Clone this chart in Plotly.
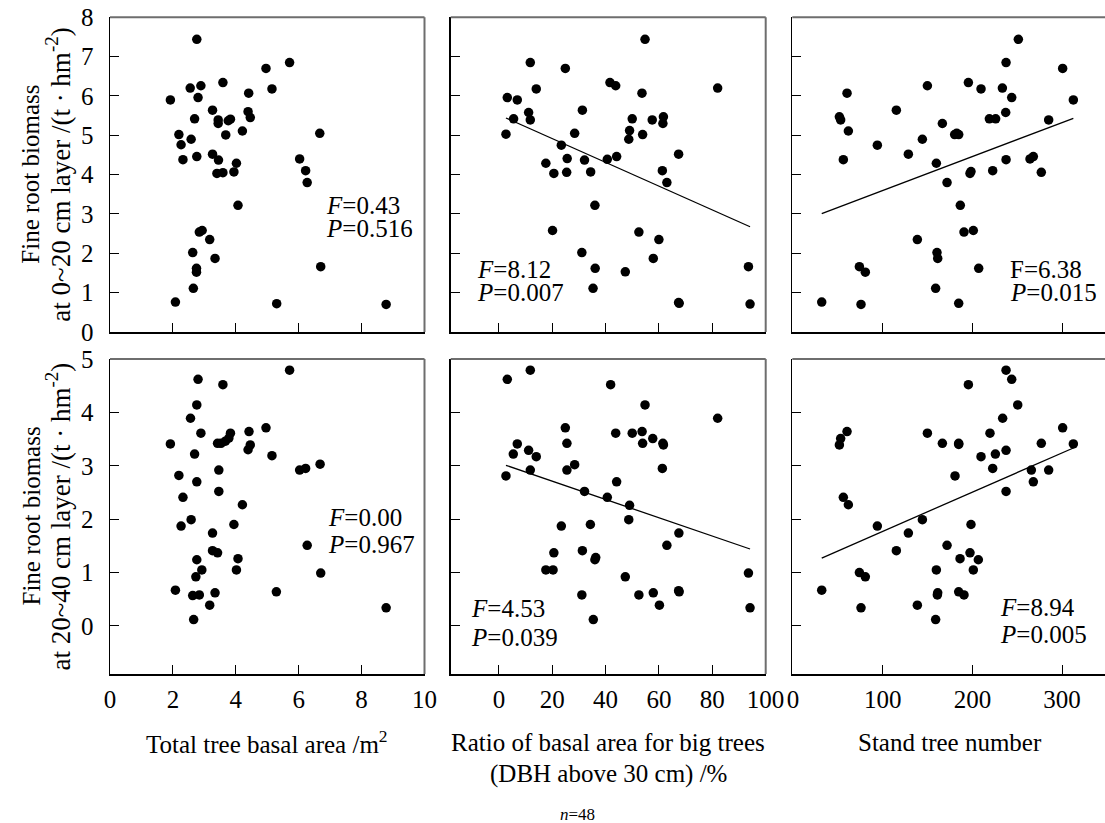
import plotly.graph_objects as go

# ---------------- data ----------------
# Top row: fine root biomass at 0~20 cm layer
top_basal_x = [2.76, 5.71, 4.96, 3.59, 2.89, 2.55, 5.15, 4.41, 1.92, 2.80, 3.26, 4.39, 4.46, 2.69, 3.44, 3.83,
               3.44, 4.21, 2.19, 3.68, 6.67, 2.58, 2.26, 3.26, 2.76, 3.45, 2.32, 6.03, 4.02, 3.40, 3.59, 3.94,
               6.22, 6.27, 4.07, 2.84, 2.93, 3.17, 2.63, 3.34, 2.75, 2.75, 2.65, 6.70, 2.08, 5.30, 8.78, 3.76]
top_basal_y = [7.44, 6.85, 6.70, 6.34, 6.26, 6.20, 6.18, 6.07, 5.90, 5.96, 5.64, 5.60, 5.45, 5.42, 5.39, 5.41,
               5.30, 5.11, 5.02, 5.01, 5.05, 4.90, 4.76, 4.52, 4.46, 4.37, 4.38, 4.40, 4.29, 4.03, 4.05, 4.07,
               4.10, 3.80, 3.22, 2.54, 2.58, 2.35, 2.02, 1.87, 1.62, 1.52, 1.11, 1.66, 0.76, 0.72, 0.70, 5.37]

top_ratio_x = [54.8, 11.76, 24.9, 41.65, 43.8, 14.0, 82.05, 53.66, 3.13, 6.88, 31.3, 11.13, 11.76, 5.50, 50.0, 57.5,
               61.7, 61.5, 49.0, 48.7, 53.9, 2.63, 28.4, 23.4, 67.4, 25.6, 32.1, 40.65, 44.15, 17.6, 20.6, 25.4,
               34.4, 61.3, 63.0, 36.0, 20.1, 52.5, 60.0, 31.1, 57.9, 36.1, 47.4, 35.3, 67.4, 67.6, 93.6, 94.2]
top_ratio_y = [7.44, 6.85, 6.70, 6.34, 6.26, 6.18, 6.20, 6.07, 5.96, 5.90, 5.64, 5.58, 5.39, 5.42, 5.42, 5.39,
               5.47, 5.30, 5.12, 4.90, 5.02, 5.03, 5.05, 4.75, 4.52, 4.41, 4.37, 4.39, 4.46, 4.29, 4.03, 4.06,
               4.07, 4.10, 3.80, 3.22, 2.58, 2.54, 2.35, 2.02, 1.87, 1.62, 1.53, 1.11, 0.75, 0.73, 1.66, 0.71]

top_number_x = [251.2, 237.5, 300.6, 195.5, 149.8, 209.6, 233.4, 60.2, 243.8, 312.5, 115.2, 237.1, 51.7, 53.1, 218.9, 225.9,
                285.0, 166.5, 61.7, 180.2, 184.7, 144.2, 94.0, 128.6, 56.1, 237.5, 264.2, 267.9, 159.8, 197.3, 198.4, 222.6,
                276.8, 171.7, 186.5, 190.6, 201.0, 138.6, 160.5, 161.3, 207.0, 74.0, 80.6, 159.0, 32.0, 75.8, 184.7, 182.5]
top_number_y = [7.44, 6.85, 6.70, 6.34, 6.26, 6.18, 6.20, 6.07, 5.96, 5.90, 5.64, 5.58, 5.47, 5.39, 5.42, 5.42,
                5.39, 5.30, 5.11, 5.02, 5.02, 4.90, 4.75, 4.52, 4.38, 4.38, 4.40, 4.46, 4.29, 4.03, 4.08, 4.10,
                4.06, 3.80, 3.22, 2.54, 2.58, 2.35, 2.02, 1.87, 1.62, 1.66, 1.52, 1.11, 0.76, 0.70, 0.73, 5.05]

# Bottom row: fine root biomass at 20~40 cm layer
bot_basal_x = [5.71, 2.80, 3.59, 2.76, 2.56, 4.96, 4.42, 2.89, 3.83, 3.78, 3.67, 3.53, 3.42, 1.92, 4.46, 4.39,
               2.69, 5.15, 6.68, 6.03, 6.22, 3.46, 2.19, 2.76, 3.46, 2.32, 4.21, 2.58, 2.26, 3.94, 3.26, 6.27,
               3.26, 3.42, 2.76, 4.07, 2.92, 4.02, 6.70, 2.73, 2.08, 2.63, 2.84, 3.34, 5.29, 3.17, 8.78, 2.66]
bot_basal_y = [4.79, 4.62, 4.52, 4.14, 3.89, 3.71, 3.64, 3.61, 3.61, 3.52, 3.46, 3.42, 3.42, 3.41, 3.39, 3.30,
               3.22, 3.19, 3.03, 2.92, 2.95, 2.92, 2.82, 2.70, 2.52, 2.41, 2.27, 1.99, 1.87, 1.90, 1.74, 1.51,
               1.41, 1.37, 1.24, 1.26, 1.05, 1.05, 0.99, 0.92, 0.67, 0.57, 0.58, 0.62, 0.64, 0.39, 0.34, 0.12]

bot_ratio_x = [11.76, 3.13, 41.9, 54.8, 82.05, 24.9, 43.8, 50.0, 53.7, 57.7, 61.5, 61.7, 53.9, 25.5, 6.88, 11.13,
               5.38, 14.0, 28.4, 25.5, 11.76, 61.3, 2.63, 44.15, 32.1, 40.65, 49.0, 48.7, 23.4, 34.3, 67.5, 63.0,
               20.6, 31.3, 36.0, 17.6, 20.3, 93.6, 47.4, 31.1, 52.5, 57.9, 67.4, 67.6, 60.2, 94.2, 35.4, 36.3]
bot_ratio_y = [4.79, 4.62, 4.52, 4.14, 3.89, 3.71, 3.61, 3.61, 3.64, 3.51, 3.42, 3.39, 3.42, 3.42, 3.41, 3.29,
               3.22, 3.17, 3.02, 2.92, 2.92, 2.95, 2.81, 2.70, 2.52, 2.41, 2.26, 1.99, 1.87, 1.90, 1.74, 1.51,
               1.37, 1.41, 1.24, 1.05, 1.05, 0.99, 0.92, 0.58, 0.58, 0.62, 0.66, 0.64, 0.39, 0.34, 0.12, 1.28]

bot_number_x = [237.5, 243.8, 195.5, 250.5, 233.7, 300.6, 60.2, 53.1, 51.7, 149.8, 166.5, 184.7, 219.6, 276.8, 312.5, 237.5,
                225.6, 209.6, 222.6, 265.7, 285.0, 267.9, 180.6, 237.5, 56.1, 61.7, 144.2, 94.0, 198.4, 128.6, 171.7, 115.2,
                197.3, 186.2, 206.6, 159.8, 201.0, 74.0, 80.6, 32.0, 160.9, 161.3, 184.7, 190.6, 138.6, 75.8, 159.0, 184.7]
bot_number_y = [4.79, 4.62, 4.52, 4.14, 3.89, 3.71, 3.64, 3.51, 3.39, 3.61, 3.42, 3.42, 3.61, 3.42, 3.41, 3.29,
                3.22, 3.17, 2.95, 2.92, 2.92, 2.70, 2.81, 2.52, 2.41, 2.27, 1.99, 1.87, 1.90, 1.74, 1.51, 1.41,
                1.37, 1.26, 1.24, 1.05, 1.05, 1.00, 0.92, 0.67, 0.58, 0.62, 0.64, 0.58, 0.39, 0.34, 0.12, 3.40]

# linear fits (intercept, slope) for the significant relationships
fit_top_ratio = (5.52, -0.0302)
fit_top_number = (2.735, 0.008626)
fit_bot_ratio = (3.054, -0.01712)
fit_bot_number = (1.037, 0.007348)

stats_F = ["0.43", "8.12", "6.38", "0.00", "4.53", "8.94"]
stats_P = ["0.516", "0.007", "0.015", "0.967", "0.039", "0.005"]

x_titles = ["Total tree basal area /m<sup>2</sup>",
            "Ratio of basal area for big trees", "(DBH above 30 cm) /%",
            "Stand tree number"]
y_title_l1 = "Fine root biomass"
y_title_l2 = ["at 0~20 cm layer /(t · hm<sup>-2</sup>)", "at 20~40 cm layer /(t · hm<sup>-2</sup>)"]

x_tickvals = [[0, 2, 4, 6, 8, 10], [0, 20, 40, 60, 80, 100], [0, 100, 200, 300]]
y_tickvals = [[0, 1, 2, 3, 4, 5, 6, 7, 8], [0, 1, 2, 3, 4, 5]]

# ---------------- layout geometry ----------------
W, H = 1105, 823
SERIF = "Liberation Serif, Times New Roman, serif"
FS = 25

col_px = [(110, 424.5), (450.7, 765.7), (792.3, 1105)]
row_px = [(17.3, 332), (359, 674)]
x_ranges = [[0, 10], [-18.1, 100.07], [-0.8, 347.8]]
y_ranges = [[0, 8], [-0.9, 5.0]]

panels = [
    (top_basal_x, top_basal_y, None),
    (top_ratio_x, top_ratio_y, fit_top_ratio),
    (top_number_x, top_number_y, fit_top_number),
    (bot_basal_x, bot_basal_y, None),
    (bot_ratio_x, bot_ratio_y, fit_bot_ratio),
    (bot_number_x, bot_number_y, fit_bot_number),
]

fig = go.Figure()
layout = dict(width=W, height=H, autosize=False,
              margin=dict(l=0, r=0, t=0, b=0),
              paper_bgcolor="white", plot_bgcolor="white",
              showlegend=False,
              font=dict(family=SERIF, size=FS, color="black"))
shapes = []
annotations = []

for k, (xs, ys, fit) in enumerate(panels):
    r, c = divmod(k, 3)
    n = "" if k == 0 else str(k + 1)
    xa, ya = "x" + n, "y" + n
    fig.add_trace(go.Scatter(x=xs, y=ys, mode="markers", xaxis=xa, yaxis=ya,
                             marker=dict(size=9.5, color="black", line=dict(width=0)),
                             hoverinfo="skip"))
    if fit is not None:
        x0, x1 = min(xs), max(xs)
        fig.add_trace(go.Scatter(x=[x0, x1], y=[fit[0] + fit[1] * x0, fit[0] + fit[1] * x1],
                                 mode="lines", xaxis=xa, yaxis=ya,
                                 line=dict(color="black", width=1.3), hoverinfo="skip"))
    layout["xaxis" + n] = dict(
        domain=[col_px[c][0] / W, col_px[c][1] / W], anchor=ya, range=x_ranges[c],
        tickvals=x_tickvals[c], ticks="inside", ticklen=9, tickwidth=1, tickcolor="black",
        showticklabels=(r == 1), ticklabelstandoff=2,
        tickfont=dict(family=SERIF, size=FS, color="black"),
        showline=True, linecolor="black", linewidth=1.5,
        showgrid=False, zeroline=False, automargin=False, fixedrange=True)
    layout["yaxis" + n] = dict(
        domain=[1 - row_px[r][1] / H, 1 - row_px[r][0] / H], anchor=xa, range=y_ranges[r],
        tickvals=y_tickvals[r], ticks="inside", ticklen=9, tickwidth=1, tickcolor="black",
        showticklabels=(c == 0), ticklabelstandoff=10,
        tickfont=dict(family=SERIF, size=FS, color="black"),
        showline=True, linecolor="black", linewidth=1.5,
        showgrid=False, zeroline=False, automargin=False, fixedrange=True)
    # grey top / right frame lines
    shapes.append(dict(type="line", xref=xa + " domain", yref=ya + " domain",
                       x0=0, x1=1, y0=1, y1=1, line=dict(color="#6e6e6e", width=2)))
    if c < 2:
        shapes.append(dict(type="line", xref=xa + " domain", yref=ya + " domain",
                           x0=1, x1=1, y0=0, y1=1, line=dict(color="#6e6e6e", width=2)))

# F / P statistics: (left x px, F centre y px, P centre y px)
stat_pos = [(324, 205, 228), (475, 268.7, 292.3), (1008, 268.7, 292.3),
            (325.7, 516.7, 544.3), (469.3, 608, 637), (998.3, 606.7, 634)]
for k, (lx, fy, py) in enumerate(stat_pos):
    ftxt = ("F=" if k == 2 else "<i>F</i>=") + stats_F[k]
    annotations.append(dict(text=ftxt, x=lx / W, y=1 - fy / H, xref="paper", yref="paper",
                            xanchor="left", yanchor="middle", showarrow=False, height=22,
                            font=dict(family=SERIF, size=FS, color="black")))
    annotations.append(dict(text="<i>P</i>=" + stats_P[k], x=lx / W, y=1 - py / H,
                            xref="paper", yref="paper", xanchor="left", yanchor="middle",
                            showarrow=False, height=22,
                            font=dict(family=SERIF, size=FS, color="black")))

# y-axis titles (two lines each row)
for r in range(2):
    cy = (row_px[r][0] + row_px[r][1]) / 2
    annotations.append(dict(text=y_title_l1, x=31 / W, y=1 - cy / H, xref="paper", yref="paper",
                            xanchor="center", yanchor="middle", textangle=-90, showarrow=False,
                            font=dict(family=SERIF, size=FS, color="black")))
    annotations.append(dict(text=y_title_l2[r], x=58 / W, y=1 - cy / H, xref="paper", yref="paper",
                            xanchor="center", yanchor="middle", textangle=-90, showarrow=False,
                            font=dict(family=SERIF, size=27, color="black")))

# x-axis titles
xt_pos = [(267, 742), (608, 742), (608, 773.5), (950, 742)]
for txt, (tx, ty) in zip(x_titles, xt_pos):
    annotations.append(dict(text=txt, x=tx / W, y=1 - ty / H, xref="paper", yref="paper",
                            xanchor="center", yanchor="middle", showarrow=False,
                            font=dict(family=SERIF, size=FS, color="black")))

annotations.append(dict(text="<i>n</i>=48", x=577.5 / W, y=1 - 814 / H, xref="paper", yref="paper",
                        xanchor="center", yanchor="middle", showarrow=False,
                        font=dict(family=SERIF, size=17, color="black")))

layout["shapes"] = shapes
layout["annotations"] = annotations
fig.update_layout(**layout)

fig.write_html("out.html", config={"displayModeBar": False, "staticPlot": True},
               post_script="document.body.style.margin='0';document.body.style.overflow='hidden';")
